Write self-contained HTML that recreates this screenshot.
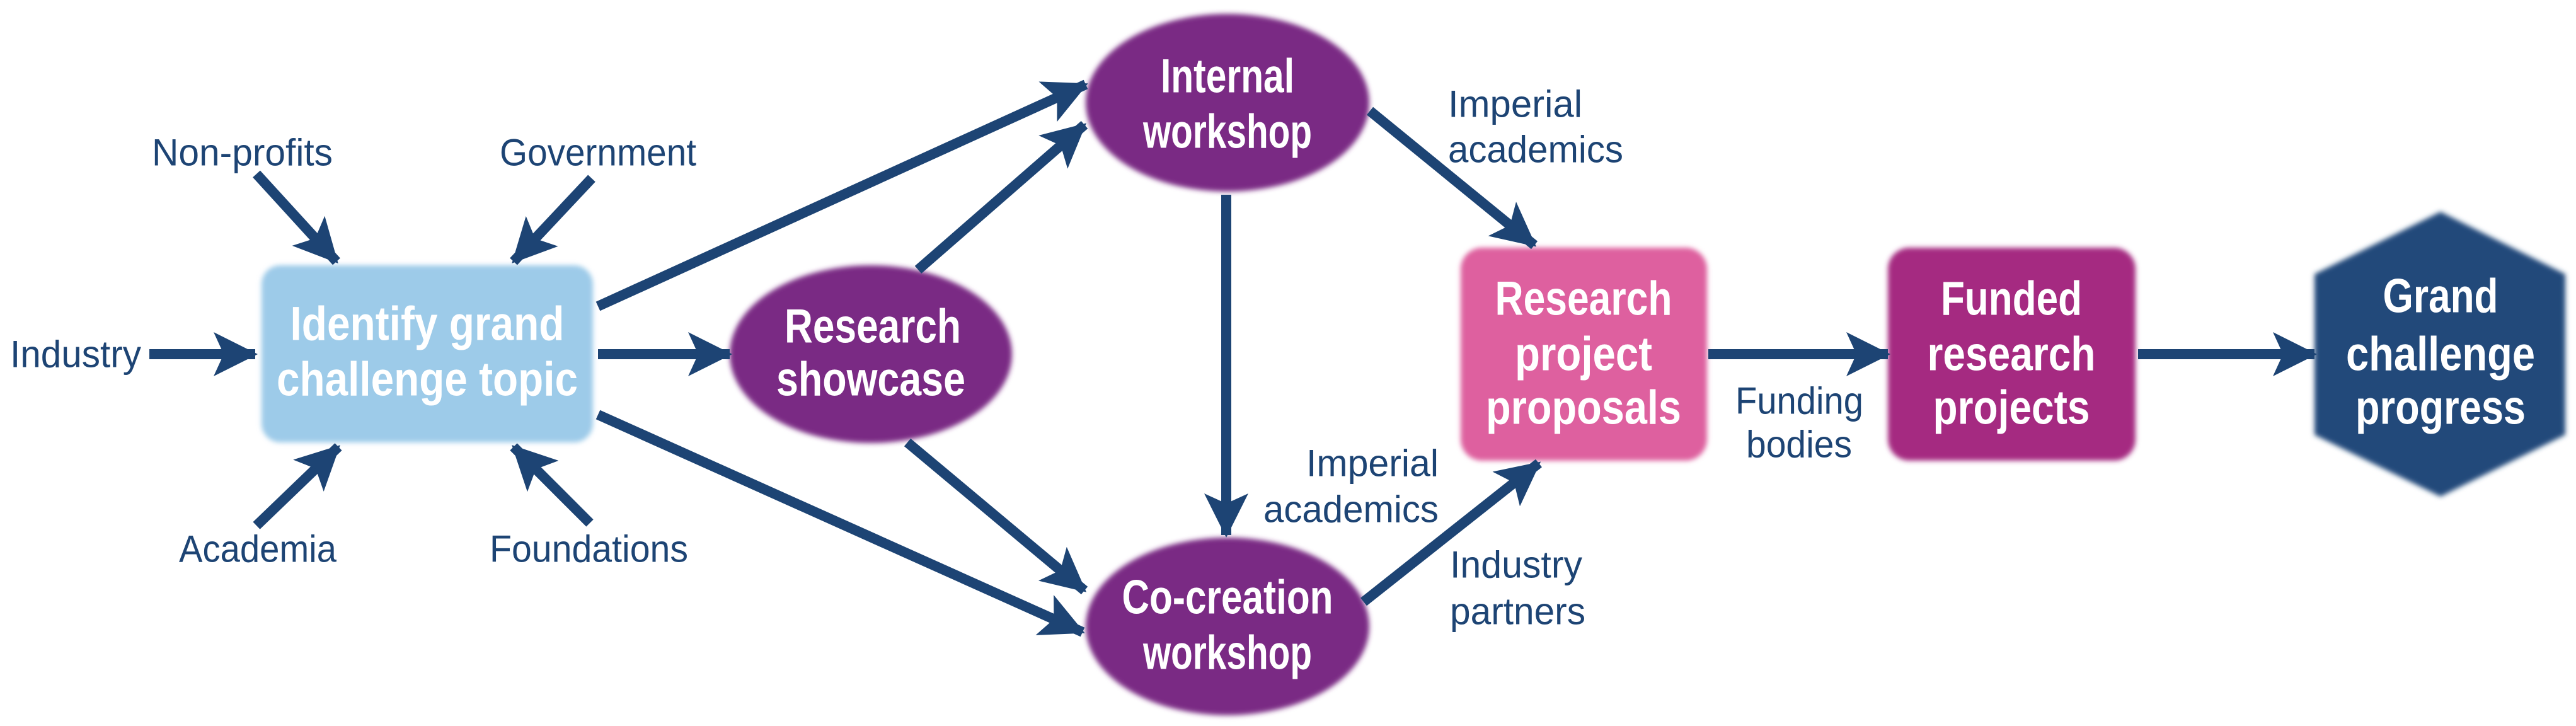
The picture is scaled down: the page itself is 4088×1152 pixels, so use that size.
<!DOCTYPE html>
<html><head><meta charset="utf-8"><style>
html,body{margin:0;padding:0;background:#fff;}
svg{display:block;}
.lbl{font-family:"Liberation Sans Narrow","Liberation Sans",sans-serif;font-size:60px;fill:#1d4474;dominant-baseline:central;}
.nd{font-family:"Liberation Sans Narrow","Liberation Sans",sans-serif;font-size:76px;font-weight:bold;fill:#fff;dominant-baseline:central;text-anchor:middle;}
</style></head><body>
<svg width="4088" height="1152" viewBox="0 0 4088 1152" xmlns="http://www.w3.org/2000/svg">
<defs>
<marker id="ah" viewBox="0 0 70 70" refX="66" refY="35" markerWidth="70" markerHeight="70" markerUnits="userSpaceOnUse" orient="auto">
<path d="M0,0 L70,35 L0,70 L16,35 z" fill="#1d4474"/>
</marker>
<filter id="soft" x="-10%" y="-10%" width="120%" height="120%"><feGaussianBlur stdDeviation="4"/></filter>
</defs>
<g filter="url(#soft)">
<rect x="415" y="421" width="526" height="281" rx="30" fill="#9dcbe9"/>
<ellipse cx="1382" cy="562" rx="224" ry="141" fill="#7a2b84"/>
<ellipse cx="1948" cy="163" rx="225" ry="141" fill="#7a2b84"/>
<ellipse cx="1948" cy="994" rx="225" ry="141" fill="#7a2b84"/>
<rect x="2318" y="393" width="391" height="338" rx="34" fill="#de609f"/>
<rect x="2996" y="393" width="393" height="338" rx="34" fill="#a52a81"/>
<polygon points="3873,336 4071,435 4071,690 3873,788 3673,690 3673,435" fill="#234a7a"/>
</g>
<g stroke="#1d4474" stroke-width="16" fill="none" marker-end="url(#ah)">
<line x1="237" y1="562" x2="405" y2="562"/>
<line x1="407" y1="276" x2="534" y2="415"/>
<line x1="939" y1="283" x2="815" y2="415"/>
<line x1="407" y1="834" x2="537" y2="709"/>
<line x1="936" y1="830" x2="815" y2="709"/>
<line x1="949" y1="486" x2="1723" y2="134"/>
<line x1="949" y1="562" x2="1158" y2="562"/>
<line x1="949" y1="658" x2="1718" y2="1003"/>
<line x1="1457" y1="428" x2="1721" y2="198"/>
<line x1="1440" y1="702" x2="1721" y2="937"/>
<line x1="1946" y1="309" x2="1946" y2="849"/>
<line x1="2174" y1="176" x2="2435" y2="389"/>
<line x1="2164" y1="955" x2="2442" y2="735"/>
<line x1="2711" y1="562" x2="2996" y2="562"/>
<line x1="3393" y1="562" x2="3673" y2="562"/>
</g>
<g lengthAdjust="spacingAndGlyphs">
<text class="lbl" x="241" y="242" textLength="287" lengthAdjust="spacingAndGlyphs">Non-profits</text>
<text class="lbl" x="793" y="242" textLength="312" lengthAdjust="spacingAndGlyphs">Government</text>
<text class="lbl" x="16" y="562" textLength="208" lengthAdjust="spacingAndGlyphs">Industry</text>
<text class="lbl" x="284" y="871" textLength="250" lengthAdjust="spacingAndGlyphs">Academia</text>
<text class="lbl" x="777" y="871" textLength="315" lengthAdjust="spacingAndGlyphs">Foundations</text>
<text class="lbl" x="2298" y="165" textLength="213" lengthAdjust="spacingAndGlyphs">Imperial</text>
<text class="lbl" x="2298" y="237" textLength="278" lengthAdjust="spacingAndGlyphs">academics</text>
<text class="lbl" x="2073" y="735" textLength="210" lengthAdjust="spacingAndGlyphs">Imperial</text>
<text class="lbl" x="2005" y="808" textLength="278" lengthAdjust="spacingAndGlyphs">academics</text>
<text class="lbl" x="2301" y="896" textLength="210" lengthAdjust="spacingAndGlyphs">Industry</text>
<text class="lbl" x="2301" y="970" textLength="215" lengthAdjust="spacingAndGlyphs">partners</text>
<text class="lbl" x="2754" y="636" textLength="203" lengthAdjust="spacingAndGlyphs">Funding</text>
<text class="lbl" x="2771" y="705" textLength="168" lengthAdjust="spacingAndGlyphs">bodies</text>
<text class="nd" x="678" y="514" textLength="435" lengthAdjust="spacingAndGlyphs">Identify grand</text>
<text class="nd" x="678" y="602" textLength="478" lengthAdjust="spacingAndGlyphs">challenge topic</text>
<text class="nd" x="1385" y="518" textLength="280" lengthAdjust="spacingAndGlyphs">Research</text>
<text class="nd" x="1382" y="602" textLength="300" lengthAdjust="spacingAndGlyphs">showcase</text>
<text class="nd" x="1948" y="121" textLength="212" lengthAdjust="spacingAndGlyphs">Internal</text>
<text class="nd" x="1948" y="209" textLength="268" lengthAdjust="spacingAndGlyphs">workshop</text>
<text class="nd" x="1948" y="948" textLength="335" lengthAdjust="spacingAndGlyphs">Co-creation</text>
<text class="nd" x="1948" y="1036" textLength="268" lengthAdjust="spacingAndGlyphs">workshop</text>
<text class="nd" x="2513" y="474" textLength="281" lengthAdjust="spacingAndGlyphs">Research</text>
<text class="nd" x="2513" y="562" textLength="218" lengthAdjust="spacingAndGlyphs">project</text>
<text class="nd" x="2513" y="647" textLength="310" lengthAdjust="spacingAndGlyphs">proposals</text>
<text class="nd" x="3192" y="474" textLength="224" lengthAdjust="spacingAndGlyphs">Funded</text>
<text class="nd" x="3192" y="562" textLength="267" lengthAdjust="spacingAndGlyphs">research</text>
<text class="nd" x="3192" y="647" textLength="249" lengthAdjust="spacingAndGlyphs">projects</text>
<text class="nd" x="3873" y="470" textLength="183" lengthAdjust="spacingAndGlyphs">Grand</text>
<text class="nd" x="3873" y="562" textLength="300" lengthAdjust="spacingAndGlyphs">challenge</text>
<text class="nd" x="3873" y="647" textLength="270" lengthAdjust="spacingAndGlyphs">progress</text>
</g>
</svg>
</body></html>
